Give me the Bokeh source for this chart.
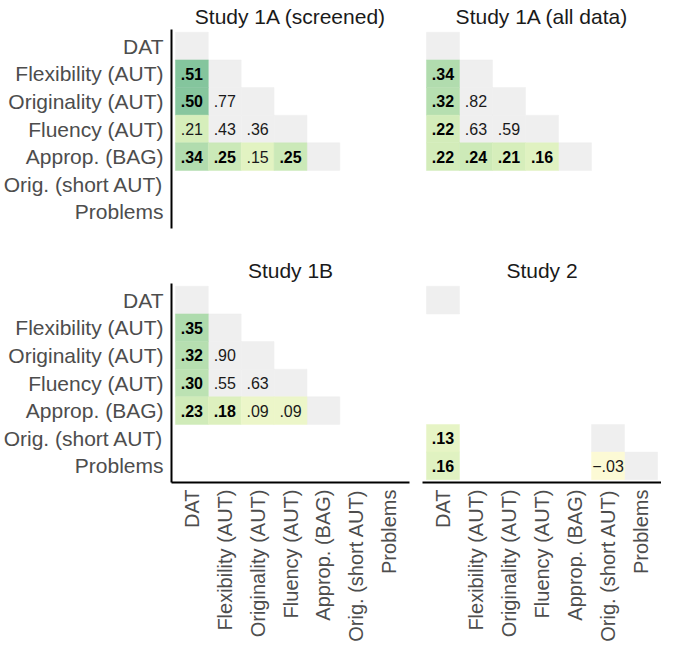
import numpy as np
from bokeh.plotting import figure
from bokeh.layouts import gridplot
from bokeh.models import ColumnDataSource, FactorRange, LinearColorMapper
from bokeh.transform import transform
from bokeh.embed import file_html
from bokeh.resources import INLINE
from bokeh.core.properties import value

# ---------------- data ----------------
variables = ["DAT", "Flexibility (AUT)", "Originality (AUT)", "Fluency (AUT)",
             "Approp. (BAG)", "Orig. (short AUT)", "Problems"]

titles = ["Study 1A (screened)", "Study 1A (all data)", "Study 1B", "Study 2"]

# diagonal cells (grey, unlabeled)
diag_1a_scr = ["DAT", "Flexibility (AUT)", "Originality (AUT)", "Fluency (AUT)", "Approp. (BAG)"]
diag_1a_all = ["DAT", "Flexibility (AUT)", "Originality (AUT)", "Fluency (AUT)", "Approp. (BAG)"]
diag_1b = ["DAT", "Flexibility (AUT)", "Originality (AUT)", "Fluency (AUT)", "Approp. (BAG)"]
diag_2 = ["DAT", "Orig. (short AUT)", "Problems"]

# Study 1A (screened)
rows_1a_scr = ["Flexibility (AUT)", "Originality (AUT)", "Originality (AUT)",
               "Fluency (AUT)", "Fluency (AUT)", "Fluency (AUT)",
               "Approp. (BAG)", "Approp. (BAG)", "Approp. (BAG)", "Approp. (BAG)"]
cols_1a_scr = ["DAT", "DAT", "Flexibility (AUT)",
               "DAT", "Flexibility (AUT)", "Originality (AUT)",
               "DAT", "Flexibility (AUT)", "Originality (AUT)", "Fluency (AUT)"]
r_1a_scr = [0.51, 0.50, 0.77, 0.21, 0.43, 0.36, 0.34, 0.25, 0.15, 0.25]
sig_1a_scr = [True, True, False, False, False, False, True, True, False, True]
same_1a_scr = [False, False, True, False, True, True, False, False, False, False]

# Study 1A (all data)
rows_1a_all = rows_1a_scr
cols_1a_all = cols_1a_scr
r_1a_all = [0.34, 0.32, 0.82, 0.22, 0.63, 0.59, 0.22, 0.24, 0.21, 0.16]
sig_1a_all = [True, True, False, True, False, False, True, True, True, True]
same_1a_all = [False, False, True, False, True, True, False, False, False, False]

# Study 1B
rows_1b = rows_1a_scr
cols_1b = cols_1a_scr
r_1b = [0.35, 0.32, 0.90, 0.30, 0.55, 0.63, 0.23, 0.18, 0.09, 0.09]
sig_1b = [True, True, False, True, False, False, True, True, False, False]
same_1b = [False, False, True, False, True, True, False, False, False, False]

# Study 2
rows_2 = ["Orig. (short AUT)", "Problems", "Problems"]
cols_2 = ["DAT", "DAT", "Orig. (short AUT)"]
r_2 = [0.13, 0.16, -0.03]
sig_2 = [True, True, False]
same_2 = [False, False, False]

# ---------------- style ----------------
stops = [-0.05, 0.0, 0.1, 0.2, 0.3, 0.4, 0.52]
stop_colors = ["#fffad8", "#f8fad0", "#ebf6c8", "#d9efbc", "#bce2b3", "#a1d4a7", "#82c49c"]


def hex2rgb(h):
    return np.array([int(h[i:i + 2], 16) for i in (1, 3, 5)], dtype=float)


grid_vals = np.linspace(stops[0], stops[-1], 256)
rgb = np.array([hex2rgb(c) for c in stop_colors])
palette = []
for v in grid_vals:
    c = [np.interp(v, stops, rgb[:, k]) for k in range(3)]
    palette.append("#%02x%02x%02x" % tuple(int(round(x)) for x in c))
mapper = LinearColorMapper(palette=palette, low=stops[0], high=stops[-1])

FONT = "Liberation Sans"
GREY = "#efefef"


def fmt(v):
    s = f"{v:.2f}"
    s = s.replace("0.", ".")
    return s.replace("-", "\u2212")


def panel(title, diag, rows, cols, r, sig, same, left, top):
    width = 422 if left else 239
    height = 254 if top else 396
    p = figure(width=width, height=height, output_backend="svg", toolbar_location=None,
               x_range=FactorRange(*variables, range_padding=0.12, range_padding_units="absolute"),
               y_range=FactorRange(*variables[::-1], range_padding=0.1, range_padding_units="absolute"),
               min_border_left=170 if left else 0, min_border_right=13 if left else 0,
               min_border_top=0, min_border_bottom=26 if top else 168,
               title=title)
    p.title.align = "center"
    p.title.text_font = FONT
    p.title.text_font_size = "21px"
    p.title.text_font_style = "normal"
    p.title.text_color = "#1a1a1a"
    p.title.standoff = 4
    p.title.offset = 0
    p.outline_line_color = None
    p.grid.grid_line_color = None
    p.background_fill_color = "white"
    p.border_fill_color = "white"

    p.rect(x=diag, y=diag, width=1, height=1, fill_color=GREY, line_color=GREY, line_width=0.5)

    gr = [i for i in range(len(r)) if same[i]]
    cr = [i for i in range(len(r)) if not same[i]]
    if gr:
        p.rect(x=[cols[i] for i in gr], y=[rows[i] for i in gr], width=1, height=1,
               fill_color=GREY, line_color=GREY, line_width=0.5)
    if cr:
        src = ColumnDataSource(dict(x=[cols[i] for i in cr], y=[rows[i] for i in cr],
                                    r=[r[i] for i in cr]))
        p.rect(x="x", y="y", width=1, height=1, source=src,
               fill_color=transform("r", mapper), line_color=transform("r", mapper), line_width=0.5)

    for bold in (True, False):
        idx = [i for i in range(len(r)) if sig[i] == bold]
        if not idx:
            continue
        p.text(x=[cols[i] for i in idx], y=[rows[i] for i in idx], text=[fmt(r[i]) for i in idx],
               text_align="center", text_baseline="middle", text_font=value(FONT),
               text_font_size="16px", text_font_style="bold" if bold else "normal",
               text_color="#000000" if bold else "#1a1a1a")

    for ax in (p.xaxis[0], p.yaxis[0]):
        ax.axis_line_width = 2
        ax.axis_line_color = "black"
        ax.major_tick_line_color = None
        ax.minor_tick_line_color = None
        ax.major_tick_out = 0
        ax.major_tick_in = 0
        ax.minor_tick_out = 0
        ax.minor_tick_in = 0
        ax.major_label_text_font = FONT
        ax.major_label_text_font_size = "21px"
        ax.major_label_text_color = "#4d4d4d"
        ax.major_label_standoff = 8
    p.xaxis.major_label_orientation = np.pi / 2
    p.xaxis.major_label_text_font_size = "20px"
    p.xaxis.major_label_standoff = 7
    if top:
        p.xaxis.visible = False
    if not left:
        p.yaxis.visible = False
    return p


p1 = panel(titles[0], diag_1a_scr, rows_1a_scr, cols_1a_scr, r_1a_scr, sig_1a_scr, same_1a_scr, True, True)
p2 = panel(titles[1], diag_1a_all, rows_1a_all, cols_1a_all, r_1a_all, sig_1a_all, same_1a_all, False, True)
p3 = panel(titles[2], diag_1b, rows_1b, cols_1b, r_1b, sig_1b, same_1b, True, False)
p4 = panel(titles[3], diag_2, rows_2, cols_2, r_2, sig_2, same_2, False, False)

grid = gridplot([[p1, p2], [p3, p4]], toolbar_location=None)

open("out.html", "w").write(file_html(grid, INLINE))
